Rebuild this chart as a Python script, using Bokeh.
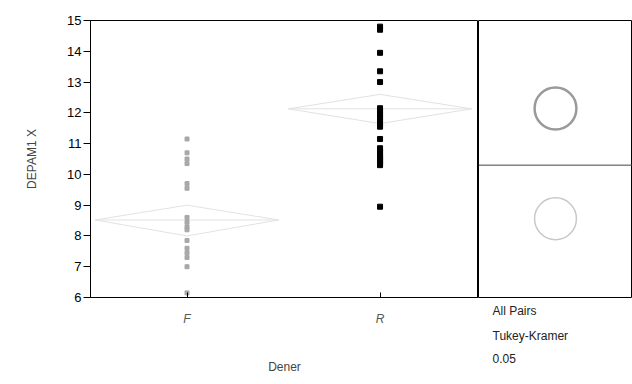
from bokeh.plotting import figure
from bokeh.layouts import row
from bokeh.models import Range1d, FixedTicker, Title, Span
from bokeh.embed import file_html
from bokeh.resources import INLINE

# ---- data ----
categories = ["F", "R"]
cat_pos = [1, 3]
f_values = [11.15, 10.7, 10.5, 10.35, 9.7, 9.55, 8.6, 8.45, 8.3, 8.2, 7.85, 7.6, 7.45, 7.3, 7.0, 6.15]
r_values = [14.8, 14.7, 13.95, 13.35, 13.0, 12.15, 12.05, 11.95, 11.85, 11.75, 11.65, 11.55,
            11.15, 10.85, 10.75, 10.7, 10.6, 10.55, 10.5, 10.45, 10.4, 10.35, 10.3, 8.95]
group_means = [8.52, 12.13]
group_upper = [9.0, 12.6]
group_lower = [8.0, 11.65]
circle_centers = [8.56, 12.14]
circle_radius = [0.68, 0.68]
y_ticks = [6, 7, 8, 9, 10, 11, 12, 13, 14, 15]
panel_divider = 10.3
method_lines = ["All Pairs", "Tukey-Kramer", "0.05"]

FONT = "Liberation Sans"
yr = Range1d(6, 15)

p = figure(width=478, height=384, x_range=Range1d(0, 4.02), y_range=yr,
           output_backend="svg", toolbar_location=None,
           min_border_left=90, min_border_right=0, min_border_top=20, min_border_bottom=87)
p.grid.visible = False
p.outline_line_color = "black"
p.background_fill_color = "white"

# mean diamonds (faint)
hw = 0.95
for c, m, u, l in zip(cat_pos, group_means, group_upper, group_lower):
    p.patch([c - hw, c, c + hw, c], [m, u, m, l], fill_color=None,
            line_color="#e2e2e2", line_width=1)
    p.segment(x0=[c - hw], y0=[m], x1=[c + hw], y1=[m], line_color="#e2e2e2", line_width=1)

p.scatter([cat_pos[0]] * len(f_values), f_values, marker="square", size=4,
          fill_color="#a8a8a8", line_color="#a8a8a8")
p.scatter([cat_pos[1]] * len(r_values), r_values, marker="square", size=5,
          fill_color="black", line_color="black")

# x axis
xa = p.xaxis[0]
xa.ticker = FixedTicker(ticks=cat_pos)
xa.major_label_overrides = {pos: lab for pos, lab in zip(cat_pos, categories)}
xa.major_tick_out = 0
xa.major_tick_in = 5
xa.minor_tick_line_color = None
xa.major_label_standoff = 14
xa.major_label_text_font = FONT
xa.major_label_text_font_size = "12px"
xa.major_label_text_font_style = "italic"
xa.major_label_text_color = "#555555"
xa.axis_label = "Dener"
xa.axis_label_text_font = FONT
xa.axis_label_text_font_size = "12px"
xa.axis_label_text_font_style = "normal"
xa.axis_label_standoff = 31
xa.axis_line_color = "black"

# y axis
ya = p.yaxis[0]
ya.ticker = FixedTicker(ticks=y_ticks)
ya.major_tick_out = 7
ya.major_tick_in = 0
ya.minor_tick_line_color = None
ya.major_label_standoff = 2
ya.major_label_text_font = FONT
ya.major_label_text_font_size = "13px"
ya.major_label_text_color = "black"
ya.axis_label = "DEPAM1 X"
ya.axis_label_text_font = FONT
ya.axis_label_text_font_size = "12px"
ya.axis_label_text_font_style = "normal"
ya.axis_label_standoff = 25
ya.axis_line_color = "black"

# comparison circles panel
q = figure(width=154, height=384, x_range=Range1d(0, 1), y_range=yr,
           output_backend="svg", toolbar_location=None,
           min_border_left=0, min_border_right=0, min_border_top=20, min_border_bottom=87)
q.grid.visible = False
q.axis.visible = False
q.outline_line_color = "black"
q.add_layout(Span(location=panel_divider, dimension="width", line_color="#444444", line_width=1))
q.circle([0.5], [circle_centers[0]], radius=[circle_radius[0]], radius_dimension="y",
         fill_color=None, line_color="#c8c8c8", line_width=1.5)
q.circle([0.5], [circle_centers[1]], radius=[circle_radius[1]], radius_dimension="y",
         fill_color=None, line_color="#9a9a9a", line_width=2.5)
for t in method_lines:
    q.add_layout(Title(text=t, align="left", offset=14, text_font=FONT,
                       text_font_size="12px", text_font_style="normal",
                       standoff=9, text_color="#222222"), "below")

layout = row(p, q)
open("out.html", "w").write(file_html(layout, INLINE))
